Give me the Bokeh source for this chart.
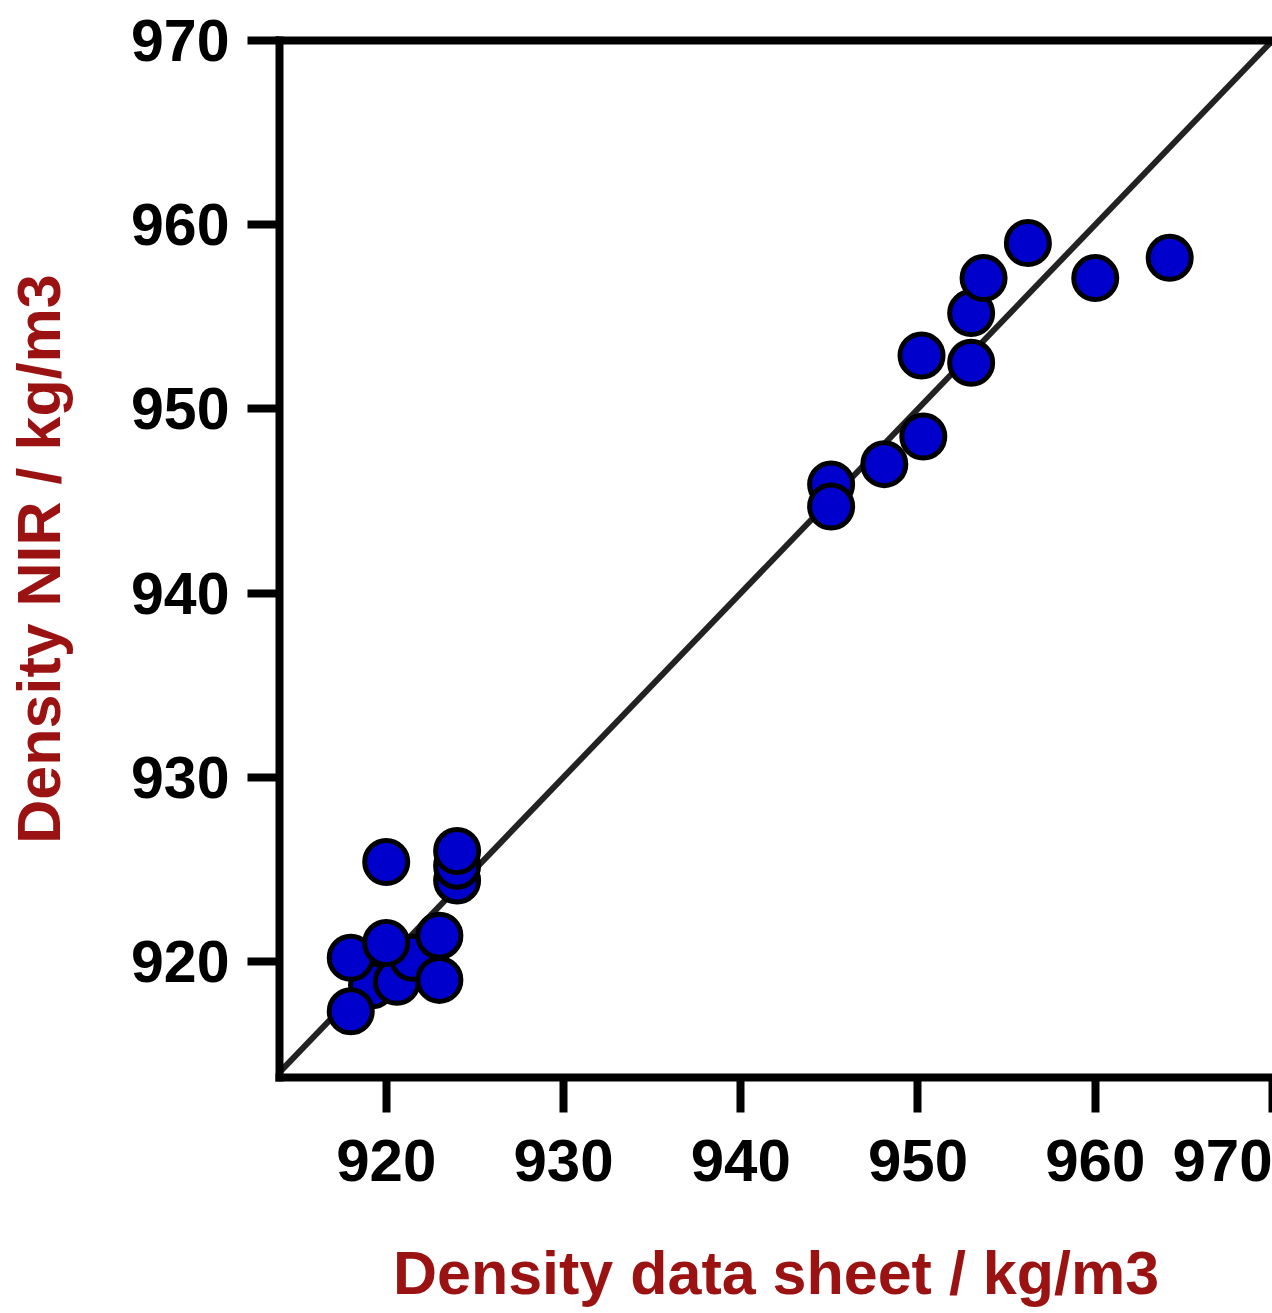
from bokeh.plotting import figure
from bokeh.models import LinearAxis, FixedTicker, Slope, Range1d
from bokeh.embed import file_html
from bokeh.resources import INLINE

# Reference density (data sheet) vs NIR-predicted density, kg/m3 (drawing order)
density_sheet = [919.2, 920.6, 921.5, 918.0, 918.0, 920.0, 923.0, 923.0,
                 924.0, 924.0, 924.0, 920.0,
                 945.1, 945.1, 948.1, 950.3, 950.2, 953.0, 953.0, 953.7,
                 956.2, 960.0, 964.2]
density_nir = [918.7, 918.9, 920.2, 920.2, 917.3, 921.0, 921.4, 919.0,
               924.4, 925.2, 926.0, 925.4,
               945.9, 944.7, 947.0, 948.5, 952.9, 952.5, 955.2, 957.1,
               959.0, 957.1, 958.2]

x_ticks = [920, 930, 940, 950, 960, 970]
y_ticks = [920, 930, 940, 950, 960, 970]

FONT = "Liberation Sans"
RED = "#9A1212"

p = figure(width=1272, height=1313,
           x_range=Range1d(913.98, 970.0), y_range=Range1d(913.7, 970),
           output_backend="svg", toolbar_location=None,
           min_border_left=279, min_border_right=0,
           min_border_top=40, min_border_bottom=236)

p.grid.visible = False
p.outline_line_color = None
p.background_fill_color = "white"
p.border_fill_color = "white"

for ax, ticks in ((p.xaxis[0], x_ticks), (p.yaxis[0], y_ticks)):
    ax.ticker = FixedTicker(ticks=ticks)
    ax.axis_line_width = 8
    ax.axis_line_color = "black"
    ax.axis_line_cap = "square"
    ax.major_tick_line_width = 8
    ax.major_tick_line_color = "black"
    ax.major_tick_in = 0
    ax.minor_tick_line_color = None
    ax.major_label_text_font = FONT
    ax.major_label_text_font_size = "59px"
    ax.major_label_text_font_style = "bold"
    ax.major_label_text_color = "black"
    ax.axis_label_text_font = FONT
    ax.axis_label_text_font_style = "bold"
    ax.axis_label_text_color = RED

p.xaxis[0].major_tick_out = 35
p.xaxis[0].major_label_text_font_size = "60px"
p.xaxis[0].major_label_standoff = 27
p.xaxis[0].axis_label = "Density data sheet / kg/m3"
p.xaxis[0].axis_label_text_font_size = "61px"
p.xaxis[0].axis_label_standoff = 55

p.yaxis[0].major_tick_out = 32
p.yaxis[0].major_label_standoff = 18
p.yaxis[0].axis_label = "Density NIR / kg/m3"
p.yaxis[0].axis_label_text_font_size = "61px"
p.yaxis[0].axis_label_standoff = 55

top = LinearAxis(ticker=FixedTicker(ticks=[]), axis_line_width=8,
                 axis_line_color="black", axis_line_cap="square",
                 major_tick_out=0, major_tick_in=0, minor_tick_out=0,
                 minor_tick_in=0, major_label_text_font_size="0px",
                 major_label_standoff=0)
p.add_layout(top, "above")

# identity line
p.add_layout(Slope(gradient=1, y_intercept=0, line_color="#222222",
                   line_width=6, level="underlay"))

p.scatter(density_sheet, density_nir, size=43, fill_color="#0000CD",
          line_color="black", line_width=5)

open("out.html", "w").write(file_html(p, INLINE))
